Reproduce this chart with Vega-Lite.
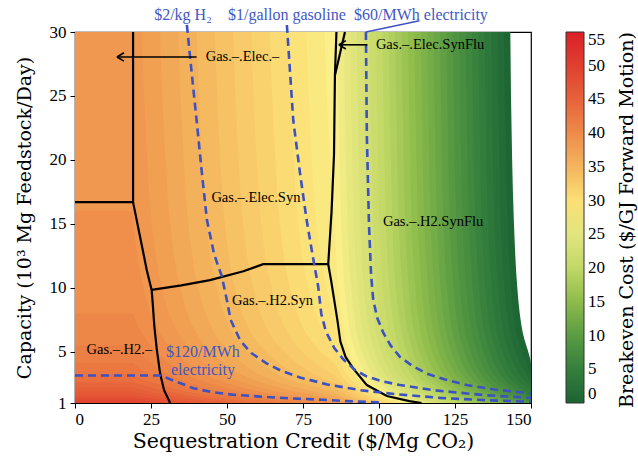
{
"$schema":"https://vega.github.io/schema/vega-lite/v6.json",
"width":456,"height":371,
"autosize":{"type":"none"},
"padding":{"left":75,"top":32,"right":107,"bottom":57},
"background":"white",
"config":{
 "font":"Liberation Serif",
 "view":{"stroke":"black","strokeWidth":1.2},
 "axis":{"grid":false,"labelFontSize":17,"titleFontSize":18.5,"titleFontWeight":"normal","labelColor":"black","titleColor":"black","tickColor":"black","domainColor":"black","tickSize":5,"labelFont":"Liberation Serif","titleFont":"DejaVu Serif"},
 "legend":{"labelFont":"Liberation Serif"}
},
"datasets":{
"areas":[
{"b":0.5,"y":30,"x":143.2},{"b":0.5,"y":20,"x":143.8},{"b":0.5,"y":15,"x":144.4},{"b":0.5,"y":10,"x":145.5},{"b":0.5,"y":8,"x":146.3},{"b":0.5,"y":6,"x":147.8},{"b":0.5,"y":5,"x":149.1},{"b":0.5,"y":4,"x":150},{"b":0.5,"y":3,"x":150},{"b":0.5,"y":2.5,"x":150},{"b":0.5,"y":2,"x":150},{"b":0.5,"y":1.5,"x":150},{"b":0.5,"y":1,"x":150},
{"b":1.5,"y":30,"x":141.1},{"b":1.5,"y":20,"x":141.7},{"b":1.5,"y":15,"x":142.3},{"b":1.5,"y":10,"x":143.4},{"b":1.5,"y":8,"x":144.2},{"b":1.5,"y":6,"x":145.7},{"b":1.5,"y":5,"x":147.0},{"b":1.5,"y":4,"x":148.7},{"b":1.5,"y":3,"x":150},{"b":1.5,"y":2.5,"x":150},{"b":1.5,"y":2,"x":150},{"b":1.5,"y":1.5,"x":150},{"b":1.5,"y":1,"x":150},
{"b":2.5,"y":30,"x":139.0},{"b":2.5,"y":20,"x":139.6},{"b":2.5,"y":15,"x":140.1},{"b":2.5,"y":10,"x":141.3},{"b":2.5,"y":8,"x":142.1},{"b":2.5,"y":6,"x":143.6},{"b":2.5,"y":5,"x":144.9},{"b":2.5,"y":4,"x":146.6},{"b":2.5,"y":3,"x":149.1},{"b":2.5,"y":2.5,"x":150},{"b":2.5,"y":2,"x":150},{"b":2.5,"y":1.5,"x":150},{"b":2.5,"y":1,"x":150},
{"b":3.5,"y":30,"x":136.9},{"b":3.5,"y":20,"x":137.5},{"b":3.5,"y":15,"x":138.0},{"b":3.5,"y":10,"x":139.2},{"b":3.5,"y":8,"x":140.0},{"b":3.5,"y":6,"x":141.5},{"b":3.5,"y":5,"x":142.8},{"b":3.5,"y":4,"x":144.5},{"b":3.5,"y":3,"x":147.0},{"b":3.5,"y":2.5,"x":149.1},{"b":3.5,"y":2,"x":150},{"b":3.5,"y":1.5,"x":150},{"b":3.5,"y":1,"x":150},
{"b":4.5,"y":30,"x":134.8},{"b":4.5,"y":20,"x":135.4},{"b":4.5,"y":15,"x":135.9},{"b":4.5,"y":10,"x":137.1},{"b":4.5,"y":8,"x":137.9},{"b":4.5,"y":6,"x":139.4},{"b":4.5,"y":5,"x":140.7},{"b":4.5,"y":4,"x":142.4},{"b":4.5,"y":3,"x":144.9},{"b":4.5,"y":2.5,"x":147.0},{"b":4.5,"y":2,"x":149.7},{"b":4.5,"y":1.5,"x":150},{"b":4.5,"y":1,"x":150},
{"b":5.5,"y":30,"x":132.7},{"b":5.5,"y":20,"x":133.3},{"b":5.5,"y":15,"x":133.8},{"b":5.5,"y":10,"x":135.0},{"b":5.5,"y":8,"x":135.8},{"b":5.5,"y":6,"x":137.3},{"b":5.5,"y":5,"x":138.6},{"b":5.5,"y":4,"x":140.2},{"b":5.5,"y":3,"x":142.8},{"b":5.5,"y":2.5,"x":144.9},{"b":5.5,"y":2,"x":147.6},{"b":5.5,"y":1.5,"x":150},{"b":5.5,"y":1,"x":150},
{"b":6.5,"y":30,"x":130.6},{"b":6.5,"y":20,"x":131.2},{"b":6.5,"y":15,"x":131.7},{"b":6.5,"y":10,"x":132.9},{"b":6.5,"y":8,"x":133.7},{"b":6.5,"y":6,"x":135.2},{"b":6.5,"y":5,"x":136.5},{"b":6.5,"y":4,"x":138.1},{"b":6.5,"y":3,"x":140.7},{"b":6.5,"y":2.5,"x":142.8},{"b":6.5,"y":2,"x":145.5},{"b":6.5,"y":1.5,"x":149.3},{"b":6.5,"y":1,"x":150},
{"b":7.5,"y":30,"x":128.5},{"b":7.5,"y":20,"x":129.1},{"b":7.5,"y":15,"x":129.6},{"b":7.5,"y":10,"x":130.8},{"b":7.5,"y":8,"x":131.6},{"b":7.5,"y":6,"x":133.1},{"b":7.5,"y":5,"x":134.4},{"b":7.5,"y":4,"x":136.0},{"b":7.5,"y":3,"x":138.6},{"b":7.5,"y":2.5,"x":140.7},{"b":7.5,"y":2,"x":143.4},{"b":7.5,"y":1.5,"x":147.2},{"b":7.5,"y":1,"x":150},
{"b":8.5,"y":30,"x":126.4},{"b":8.5,"y":20,"x":127.0},{"b":8.5,"y":15,"x":127.5},{"b":8.5,"y":10,"x":128.7},{"b":8.5,"y":8,"x":129.5},{"b":8.5,"y":6,"x":131.0},{"b":8.5,"y":5,"x":132.3},{"b":8.5,"y":4,"x":133.9},{"b":8.5,"y":3,"x":136.5},{"b":8.5,"y":2.5,"x":138.6},{"b":8.5,"y":2,"x":141.3},{"b":8.5,"y":1.5,"x":145.1},{"b":8.5,"y":1,"x":150},
{"b":9.5,"y":30,"x":124.3},{"b":9.5,"y":20,"x":124.9},{"b":9.5,"y":15,"x":125.4},{"b":9.5,"y":10,"x":126.6},{"b":9.5,"y":8,"x":127.4},{"b":9.5,"y":6,"x":128.9},{"b":9.5,"y":5,"x":130.2},{"b":9.5,"y":4,"x":131.8},{"b":9.5,"y":3,"x":134.4},{"b":9.5,"y":2.5,"x":136.5},{"b":9.5,"y":2,"x":139.2},{"b":9.5,"y":1.5,"x":143.0},{"b":9.5,"y":1,"x":148.4},
{"b":10.5,"y":30,"x":122.2},{"b":10.5,"y":20,"x":122.8},{"b":10.5,"y":15,"x":123.3},{"b":10.5,"y":10,"x":124.5},{"b":10.5,"y":8,"x":125.3},{"b":10.5,"y":6,"x":126.8},{"b":10.5,"y":5,"x":128.1},{"b":10.5,"y":4,"x":129.7},{"b":10.5,"y":3,"x":132.3},{"b":10.5,"y":2.5,"x":134.4},{"b":10.5,"y":2,"x":137.1},{"b":10.5,"y":1.5,"x":140.9},{"b":10.5,"y":1,"x":146.3},
{"b":11.5,"y":30,"x":120.1},{"b":11.5,"y":20,"x":120.7},{"b":11.5,"y":15,"x":121.2},{"b":11.5,"y":10,"x":122.4},{"b":11.5,"y":8,"x":123.2},{"b":11.5,"y":6,"x":124.7},{"b":11.5,"y":5,"x":126.0},{"b":11.5,"y":4,"x":127.6},{"b":11.5,"y":3,"x":130.2},{"b":11.5,"y":2.5,"x":132.3},{"b":11.5,"y":2,"x":135.0},{"b":11.5,"y":1.5,"x":138.8},{"b":11.5,"y":1,"x":144.2},
{"b":12.5,"y":30,"x":118.0},{"b":12.5,"y":20,"x":118.6},{"b":12.5,"y":15,"x":119.1},{"b":12.5,"y":10,"x":120.3},{"b":12.5,"y":8,"x":121.1},{"b":12.5,"y":6,"x":122.6},{"b":12.5,"y":5,"x":123.8},{"b":12.5,"y":4,"x":125.5},{"b":12.5,"y":3,"x":128.0},{"b":12.5,"y":2.5,"x":130.2},{"b":12.5,"y":2,"x":132.9},{"b":12.5,"y":1.5,"x":136.7},{"b":12.5,"y":1,"x":142.1},
{"b":13.5,"y":30,"x":115.9},{"b":13.5,"y":20,"x":116.5},{"b":13.5,"y":15,"x":117.0},{"b":13.5,"y":10,"x":118.2},{"b":13.5,"y":8,"x":119.0},{"b":13.5,"y":6,"x":120.5},{"b":13.5,"y":5,"x":121.7},{"b":13.5,"y":4,"x":123.4},{"b":13.5,"y":3,"x":125.9},{"b":13.5,"y":2.5,"x":128.1},{"b":13.5,"y":2,"x":130.8},{"b":13.5,"y":1.5,"x":134.6},{"b":13.5,"y":1,"x":140.0},
{"b":14.5,"y":30,"x":113.8},{"b":14.5,"y":20,"x":114.4},{"b":14.5,"y":15,"x":114.9},{"b":14.5,"y":10,"x":116.1},{"b":14.5,"y":8,"x":116.9},{"b":14.5,"y":6,"x":118.4},{"b":14.5,"y":5,"x":119.6},{"b":14.5,"y":4,"x":121.3},{"b":14.5,"y":3,"x":123.8},{"b":14.5,"y":2.5,"x":126.0},{"b":14.5,"y":2,"x":128.7},{"b":14.5,"y":1.5,"x":132.5},{"b":14.5,"y":1,"x":137.9},
{"b":15.5,"y":30,"x":111.6},{"b":15.5,"y":20,"x":112.3},{"b":15.5,"y":15,"x":112.8},{"b":15.5,"y":10,"x":114.0},{"b":15.5,"y":8,"x":114.8},{"b":15.5,"y":6,"x":116.3},{"b":15.5,"y":5,"x":117.5},{"b":15.5,"y":4,"x":119.2},{"b":15.5,"y":3,"x":121.7},{"b":15.5,"y":2.5,"x":123.8},{"b":15.5,"y":2,"x":126.6},{"b":15.5,"y":1.5,"x":130.4},{"b":15.5,"y":1,"x":135.8},
{"b":16.5,"y":30,"x":109.5},{"b":16.5,"y":20,"x":110.2},{"b":16.5,"y":15,"x":110.7},{"b":16.5,"y":10,"x":111.9},{"b":16.5,"y":8,"x":112.7},{"b":16.5,"y":6,"x":114.2},{"b":16.5,"y":5,"x":115.4},{"b":16.5,"y":4,"x":117.1},{"b":16.5,"y":3,"x":119.6},{"b":16.5,"y":2.5,"x":121.7},{"b":16.5,"y":2,"x":124.5},{"b":16.5,"y":1.5,"x":128.3},{"b":16.5,"y":1,"x":133.7},
{"b":17.5,"y":30,"x":107.4},{"b":17.5,"y":20,"x":108.1},{"b":17.5,"y":15,"x":108.6},{"b":17.5,"y":10,"x":109.8},{"b":17.5,"y":8,"x":110.6},{"b":17.5,"y":6,"x":112.1},{"b":17.5,"y":5,"x":113.3},{"b":17.5,"y":4,"x":115.0},{"b":17.5,"y":3,"x":117.5},{"b":17.5,"y":2.5,"x":119.6},{"b":17.5,"y":2,"x":122.4},{"b":17.5,"y":1.5,"x":126.2},{"b":17.5,"y":1,"x":131.6},
{"b":18.5,"y":30,"x":105.3},{"b":18.5,"y":20,"x":106.0},{"b":18.5,"y":15,"x":106.5},{"b":18.5,"y":10,"x":107.7},{"b":18.5,"y":8,"x":108.5},{"b":18.5,"y":6,"x":110.0},{"b":18.5,"y":5,"x":111.2},{"b":18.5,"y":4,"x":112.9},{"b":18.5,"y":3,"x":115.4},{"b":18.5,"y":2.5,"x":117.5},{"b":18.5,"y":2,"x":120.3},{"b":18.5,"y":1.5,"x":124.1},{"b":18.5,"y":1,"x":129.5},
{"b":19.5,"y":30,"x":103.2},{"b":19.5,"y":20,"x":103.9},{"b":19.5,"y":15,"x":104.4},{"b":19.5,"y":10,"x":105.5},{"b":19.5,"y":8,"x":106.4},{"b":19.5,"y":6,"x":107.9},{"b":19.5,"y":5,"x":109.1},{"b":19.5,"y":4,"x":110.8},{"b":19.5,"y":3,"x":113.3},{"b":19.5,"y":2.5,"x":115.4},{"b":19.5,"y":2,"x":118.2},{"b":19.5,"y":1.5,"x":122.0},{"b":19.5,"y":1,"x":127.4},
{"b":20.5,"y":30,"x":101.1},{"b":20.5,"y":20,"x":101.8},{"b":20.5,"y":15,"x":102.3},{"b":20.5,"y":10,"x":103.4},{"b":20.5,"y":8,"x":104.3},{"b":20.5,"y":6,"x":105.8},{"b":20.5,"y":5,"x":107.0},{"b":20.5,"y":4,"x":108.7},{"b":20.5,"y":3,"x":111.2},{"b":20.5,"y":2.5,"x":113.3},{"b":20.5,"y":2,"x":116.1},{"b":20.5,"y":1.5,"x":119.9},{"b":20.5,"y":1,"x":125.3},
{"b":21.5,"y":30,"x":99.0},{"b":21.5,"y":20,"x":99.7},{"b":21.5,"y":15,"x":100.2},{"b":21.5,"y":10,"x":101.3},{"b":21.5,"y":8,"x":102.2},{"b":21.5,"y":6,"x":103.7},{"b":21.5,"y":5,"x":104.9},{"b":21.5,"y":4,"x":106.6},{"b":21.5,"y":3,"x":109.1},{"b":21.5,"y":2.5,"x":111.2},{"b":21.5,"y":2,"x":114.0},{"b":21.5,"y":1.5,"x":117.8},{"b":21.5,"y":1,"x":123.2},
{"b":22.5,"y":30,"x":96.9},{"b":22.5,"y":20,"x":97.6},{"b":22.5,"y":15,"x":98.1},{"b":22.5,"y":10,"x":99.2},{"b":22.5,"y":8,"x":100.1},{"b":22.5,"y":6,"x":101.6},{"b":22.5,"y":5,"x":102.8},{"b":22.5,"y":4,"x":104.5},{"b":22.5,"y":3,"x":107.0},{"b":22.5,"y":2.5,"x":109.1},{"b":22.5,"y":2,"x":111.9},{"b":22.5,"y":1.5,"x":115.6},{"b":22.5,"y":1,"x":121.1},
{"b":23.5,"y":30,"x":94.8},{"b":23.5,"y":20,"x":95.5},{"b":23.5,"y":15,"x":96.0},{"b":23.5,"y":10,"x":97.1},{"b":23.5,"y":8,"x":98.0},{"b":23.5,"y":6,"x":99.5},{"b":23.5,"y":5,"x":100.7},{"b":23.5,"y":4,"x":102.4},{"b":23.5,"y":3,"x":104.9},{"b":23.5,"y":2.5,"x":107.0},{"b":23.5,"y":2,"x":109.8},{"b":23.5,"y":1.5,"x":113.5},{"b":23.5,"y":1,"x":119.0},
{"b":24.5,"y":30,"x":92.7},{"b":24.5,"y":20,"x":93.4},{"b":24.5,"y":15,"x":93.9},{"b":24.5,"y":10,"x":95.0},{"b":24.5,"y":8,"x":95.9},{"b":24.5,"y":6,"x":97.4},{"b":24.5,"y":5,"x":98.6},{"b":24.5,"y":4,"x":100.3},{"b":24.5,"y":3,"x":102.8},{"b":24.5,"y":2.5,"x":104.9},{"b":24.5,"y":2,"x":107.7},{"b":24.5,"y":1.5,"x":111.4},{"b":24.5,"y":1,"x":116.9},
{"b":25.5,"y":30,"x":90.6},{"b":25.5,"y":20,"x":91.2},{"b":25.5,"y":15,"x":91.8},{"b":25.5,"y":10,"x":92.9},{"b":25.5,"y":8,"x":93.8},{"b":25.5,"y":6,"x":95.2},{"b":25.5,"y":5,"x":96.5},{"b":25.5,"y":4,"x":98.2},{"b":25.5,"y":3,"x":100.7},{"b":25.5,"y":2.5,"x":102.8},{"b":25.5,"y":2,"x":105.5},{"b":25.5,"y":1.5,"x":109.3},{"b":25.5,"y":1,"x":114.8},
{"b":26.5,"y":30,"x":88.5},{"b":26.5,"y":20,"x":89.1},{"b":26.5,"y":15,"x":89.7},{"b":26.5,"y":10,"x":90.8},{"b":26.5,"y":8,"x":91.7},{"b":26.5,"y":6,"x":93.1},{"b":26.5,"y":5,"x":94.4},{"b":26.5,"y":4,"x":96.1},{"b":26.5,"y":3,"x":98.6},{"b":26.5,"y":2.5,"x":100.7},{"b":26.5,"y":2,"x":103.4},{"b":26.5,"y":1.5,"x":107.2},{"b":26.5,"y":1,"x":112.7},
{"b":27.5,"y":30,"x":86.4},{"b":27.5,"y":20,"x":87.0},{"b":27.5,"y":15,"x":87.6},{"b":27.5,"y":10,"x":88.7},{"b":27.5,"y":8,"x":89.6},{"b":27.5,"y":6,"x":91.0},{"b":27.5,"y":5,"x":92.3},{"b":27.5,"y":4,"x":94.0},{"b":27.5,"y":3,"x":96.5},{"b":27.5,"y":2.5,"x":98.6},{"b":27.5,"y":2,"x":101.3},{"b":27.5,"y":1.5,"x":105.1},{"b":27.5,"y":1,"x":110.6},
{"b":28.5,"y":30,"x":82.1},{"b":28.5,"y":20,"x":83.9},{"b":28.5,"y":15,"x":85.4},{"b":28.5,"y":10,"x":86.6},{"b":28.5,"y":8,"x":87.5},{"b":28.5,"y":6,"x":88.9},{"b":28.5,"y":5,"x":90.2},{"b":28.5,"y":4,"x":91.9},{"b":28.5,"y":3,"x":94.4},{"b":28.5,"y":2.5,"x":96.5},{"b":28.5,"y":2,"x":99.2},{"b":28.5,"y":1.5,"x":103.0},{"b":28.5,"y":1,"x":108.5},
{"b":29.5,"y":30,"x":76.1},{"b":29.5,"y":20,"x":77.9},{"b":29.5,"y":15,"x":79.4},{"b":29.5,"y":10,"x":82.7},{"b":29.5,"y":8,"x":85.1},{"b":29.5,"y":6,"x":86.8},{"b":29.5,"y":5,"x":88.1},{"b":29.5,"y":4,"x":89.8},{"b":29.5,"y":3,"x":92.3},{"b":29.5,"y":2.5,"x":94.4},{"b":29.5,"y":2,"x":97.1},{"b":29.5,"y":1.5,"x":100.9},{"b":29.5,"y":1,"x":106.4},
{"b":30.5,"y":30,"x":70.1},{"b":30.5,"y":20,"x":71.9},{"b":30.5,"y":15,"x":73.4},{"b":30.5,"y":10,"x":76.7},{"b":30.5,"y":8,"x":79.1},{"b":30.5,"y":6,"x":83.3},{"b":30.5,"y":5,"x":86.0},{"b":30.5,"y":4,"x":87.7},{"b":30.5,"y":3,"x":90.2},{"b":30.5,"y":2.5,"x":92.3},{"b":30.5,"y":2,"x":95.0},{"b":30.5,"y":1.5,"x":98.8},{"b":30.5,"y":1,"x":104.3},
{"b":31.5,"y":30,"x":64.1},{"b":31.5,"y":20,"x":65.9},{"b":31.5,"y":15,"x":67.4},{"b":31.5,"y":10,"x":70.7},{"b":31.5,"y":8,"x":73.1},{"b":31.5,"y":6,"x":77.3},{"b":31.5,"y":5,"x":80.9},{"b":31.5,"y":4,"x":85.6},{"b":31.5,"y":3,"x":88.1},{"b":31.5,"y":2.5,"x":90.2},{"b":31.5,"y":2,"x":92.9},{"b":31.5,"y":1.5,"x":96.7},{"b":31.5,"y":1,"x":102.2},
{"b":32.5,"y":30,"x":58.0},{"b":32.5,"y":20,"x":59.8},{"b":32.5,"y":15,"x":61.3},{"b":32.5,"y":10,"x":64.7},{"b":32.5,"y":8,"x":67.1},{"b":32.5,"y":6,"x":71.3},{"b":32.5,"y":5,"x":74.9},{"b":32.5,"y":4,"x":79.7},{"b":32.5,"y":3,"x":86.0},{"b":32.5,"y":2.5,"x":88.1},{"b":32.5,"y":2,"x":90.8},{"b":32.5,"y":1.5,"x":94.6},{"b":32.5,"y":1,"x":100.1},
{"b":33.5,"y":30,"x":52.0},{"b":33.5,"y":20,"x":53.8},{"b":33.5,"y":15,"x":55.3},{"b":33.5,"y":10,"x":58.6},{"b":33.5,"y":8,"x":61.0},{"b":33.5,"y":6,"x":65.2},{"b":33.5,"y":5,"x":68.9},{"b":33.5,"y":4,"x":73.7},{"b":33.5,"y":3,"x":80.9},{"b":33.5,"y":2.5,"x":86.0},{"b":33.5,"y":2,"x":88.7},{"b":33.5,"y":1.5,"x":92.5},{"b":33.5,"y":1,"x":98.0},
{"b":34.5,"y":30,"x":46.0},{"b":34.5,"y":20,"x":47.8},{"b":34.5,"y":15,"x":49.3},{"b":34.5,"y":10,"x":52.6},{"b":34.5,"y":8,"x":55.0},{"b":34.5,"y":6,"x":59.2},{"b":34.5,"y":5,"x":62.9},{"b":34.5,"y":4,"x":67.7},{"b":34.5,"y":3,"x":74.9},{"b":34.5,"y":2.5,"x":80.9},{"b":34.5,"y":2,"x":86.6},{"b":34.5,"y":1.5,"x":90.4},{"b":34.5,"y":1,"x":95.9},
{"b":35.5,"y":30,"x":40.0},{"b":35.5,"y":20,"x":41.8},{"b":35.5,"y":15,"x":43.3},{"b":35.5,"y":10,"x":46.6},{"b":35.5,"y":8,"x":49.0},{"b":35.5,"y":6,"x":53.2},{"b":35.5,"y":5,"x":56.8},{"b":35.5,"y":4,"x":61.6},{"b":35.5,"y":3,"x":68.9},{"b":35.5,"y":2.5,"x":74.9},{"b":35.5,"y":2,"x":82.7},{"b":35.5,"y":1.5,"x":88.3},{"b":35.5,"y":1,"x":93.8},
{"b":36.5,"y":30,"x":34.0},{"b":36.5,"y":20,"x":35.8},{"b":36.5,"y":15,"x":37.3},{"b":36.5,"y":10,"x":40.6},{"b":36.5,"y":8,"x":43.0},{"b":36.5,"y":6,"x":47.2},{"b":36.5,"y":5,"x":50.8},{"b":36.5,"y":4,"x":55.6},{"b":36.5,"y":3,"x":62.9},{"b":36.5,"y":2.5,"x":68.9},{"b":36.5,"y":2,"x":76.7},{"b":36.5,"y":1.5,"x":86.2},{"b":36.5,"y":1,"x":91.7},
{"b":37.5,"y":30,"x":28.0},{"b":37.5,"y":20,"x":29.8},{"b":37.5,"y":15,"x":31.3},{"b":37.5,"y":10,"x":34.6},{"b":37.5,"y":8,"x":37.0},{"b":37.5,"y":6,"x":41.2},{"b":37.5,"y":5,"x":44.8},{"b":37.5,"y":4,"x":49.6},{"b":37.5,"y":3,"x":56.8},{"b":37.5,"y":2.5,"x":62.8},{"b":37.5,"y":2,"x":70.7},{"b":37.5,"y":1.5,"x":81.5},{"b":37.5,"y":1,"x":89.6},
{"b":38.5,"y":30,"x":22.0},{"b":38.5,"y":20,"x":23.8},{"b":38.5,"y":15,"x":25.3},{"b":38.5,"y":10,"x":28.6},{"b":38.5,"y":8,"x":31.0},{"b":38.5,"y":6,"x":35.2},{"b":38.5,"y":5,"x":38.8},{"b":38.5,"y":4,"x":43.6},{"b":38.5,"y":3,"x":50.8},{"b":38.5,"y":2.5,"x":56.8},{"b":38.5,"y":2,"x":64.6},{"b":38.5,"y":1.5,"x":75.5},{"b":38.5,"y":1,"x":87.5},
{"b":39.5,"y":16,"x":19},{"b":39.5,"y":15,"x":19.3},{"b":39.5,"y":10,"x":22.6},{"b":39.5,"y":8,"x":25.0},{"b":39.5,"y":6,"x":29.2},{"b":39.5,"y":5,"x":32.8},{"b":39.5,"y":4,"x":37.6},{"b":39.5,"y":3,"x":44.8},{"b":39.5,"y":2.5,"x":50.8},{"b":39.5,"y":2,"x":58.6},{"b":39.5,"y":1.5,"x":69.5},{"b":39.5,"y":1,"x":85.1},
{"b":40.5,"y":8,"x":19},{"b":40.5,"y":6,"x":23.2},{"b":40.5,"y":5,"x":26.8},{"b":40.5,"y":4,"x":31.6},{"b":40.5,"y":3,"x":38.8},{"b":40.5,"y":2.5,"x":44.8},{"b":40.5,"y":2,"x":52.6},{"b":40.5,"y":1.5,"x":63.4},{"b":40.5,"y":1,"x":79.1},
{"b":41.5,"y":5.5,"x":19},{"b":41.5,"y":5,"x":20.8},{"b":41.5,"y":4,"x":25.6},{"b":41.5,"y":3,"x":32.8},{"b":41.5,"y":2.5,"x":38.8},{"b":41.5,"y":2,"x":46.6},{"b":41.5,"y":1.5,"x":57.4},{"b":41.5,"y":1,"x":73.1},
{"b":42.5,"y":4.125,"x":19},{"b":42.5,"y":4,"x":19.6},{"b":42.5,"y":3,"x":26.8},{"b":42.5,"y":2.5,"x":32.8},{"b":42.5,"y":2,"x":40.6},{"b":42.5,"y":1.5,"x":51.4},{"b":42.5,"y":1,"x":67.1},
{"b":43.5,"y":3.25,"x":19},{"b":43.5,"y":3,"x":20.8},{"b":43.5,"y":2.5,"x":26.8},{"b":43.5,"y":2,"x":34.6},{"b":43.5,"y":1.5,"x":45.4},{"b":43.5,"y":1,"x":61.0},
{"b":44.5,"y":2.65,"x":19},{"b":44.5,"y":2.5,"x":20.8},{"b":44.5,"y":2,"x":28.6},{"b":44.5,"y":1.5,"x":39.4},{"b":44.5,"y":1,"x":55.0},
{"b":45.5,"y":2.23,"x":19},{"b":45.5,"y":2,"x":22.6},{"b":45.5,"y":1.5,"x":33.4},{"b":45.5,"y":1,"x":49.0},
{"b":46.5,"y":1.89,"x":19},{"b":46.5,"y":1.5,"x":27.4},{"b":46.5,"y":1,"x":43.0},
{"b":47.5,"y":1.61,"x":19},{"b":47.5,"y":1.5,"x":21.4},{"b":47.5,"y":1,"x":37.0},
{"b":48.5,"y":1.38,"x":19},{"b":48.5,"y":1,"x":31.0},
{"b":49.5,"y":1.19,"x":19},{"b":49.5,"y":1,"x":25.0}
],
"black":[
{"id":"b1","i":1,"x":19.1,"y":30},{"id":"b1","i":2,"x":19.1,"y":16.7},
{"id":"b2","i":1,"x":0,"y":16.7},{"id":"b2","i":2,"x":19.1,"y":16.7},
{"id":"b3","i":1,"x":19.1,"y":16.7},{"id":"b3","i":2,"x":21.4,"y":14},{"id":"b3","i":3,"x":23.6,"y":11.4},{"id":"b3","i":4,"x":25.2,"y":9.84},{"id":"b3","i":5,"x":25.5,"y":9},{"id":"b3","i":6,"x":26.1,"y":7},{"id":"b3","i":7,"x":26.9,"y":5.2},{"id":"b3","i":8,"x":28,"y":3.3},{"id":"b3","i":9,"x":29.3,"y":2},{"id":"b3","i":10,"x":31.3,"y":1},
{"id":"b4","i":1,"x":25.2,"y":9.84},{"id":"b4","i":2,"x":35,"y":10.2},{"id":"b4","i":3,"x":44.4,"y":10.6},{"id":"b4","i":4,"x":55.4,"y":11.3},{"id":"b4","i":5,"x":61.9,"y":11.85},{"id":"b4","i":6,"x":83.3,"y":11.85},
{"id":"b5","i":1,"x":86,"y":30},{"id":"b5","i":2,"x":85.5,"y":26.6},{"id":"b5","i":3,"x":85.2,"y":20.4},{"id":"b5","i":4,"x":84.4,"y":16},{"id":"b5","i":5,"x":83.3,"y":11.85},{"id":"b5","i":6,"x":84.3,"y":10.5},{"id":"b5","i":7,"x":85.3,"y":9},{"id":"b5","i":8,"x":86.3,"y":7.5},{"id":"b5","i":9,"x":87.3,"y":5.8},{"id":"b5","i":10,"x":89,"y":4.6},{"id":"b5","i":11,"x":91.5,"y":3.7},{"id":"b5","i":12,"x":96,"y":2.4},{"id":"b5","i":13,"x":102.6,"y":1.55},{"id":"b5","i":14,"x":110,"y":1.15},{"id":"b5","i":15,"x":114,"y":1},
{"id":"b6","i":1,"x":88.8,"y":30},{"id":"b6","i":2,"x":85.5,"y":26.6}
],
"dashed":[
{"id":"d1","i":1,"x":36.8,"y":30.55},{"id":"d1","i":2,"x":38.3,"y":27},{"id":"d1","i":3,"x":40,"y":23.1},{"id":"d1","i":4,"x":41.6,"y":19.3},{"id":"d1","i":5,"x":43.4,"y":15.3},{"id":"d1","i":6,"x":45.8,"y":12.6},{"id":"d1","i":7,"x":48.3,"y":10.9},{"id":"d1","i":8,"x":50,"y":9},{"id":"d1","i":9,"x":51.2,"y":7.5},{"id":"d1","i":10,"x":54.3,"y":5.9},{"id":"d1","i":11,"x":58,"y":4.9},{"id":"d1","i":12,"x":63,"y":4.1},{"id":"d1","i":13,"x":68,"y":3.5},{"id":"d1","i":14,"x":74,"y":3.0},{"id":"d1","i":15,"x":83,"y":2.45},{"id":"d1","i":16,"x":94,"y":2.0},{"id":"d1","i":17,"x":105,"y":1.7},{"id":"d1","i":18,"x":120,"y":1.4},{"id":"d1","i":19,"x":135,"y":1.22},{"id":"d1","i":20,"x":150,"y":1.1},
{"id":"d2","i":1,"x":69.7,"y":30.55},{"id":"d2","i":2,"x":71.8,"y":23.1},{"id":"d2","i":3,"x":74,"y":19},{"id":"d2","i":4,"x":76.2,"y":15.3},{"id":"d2","i":5,"x":78.2,"y":12.5},{"id":"d2","i":6,"x":80,"y":10.1},{"id":"d2","i":7,"x":81,"y":8},{"id":"d2","i":8,"x":82.5,"y":6.6},{"id":"d2","i":9,"x":85.3,"y":5.3},{"id":"d2","i":10,"x":88.3,"y":4.4},{"id":"d2","i":11,"x":92,"y":3.6},{"id":"d2","i":12,"x":96,"y":3.07},{"id":"d2","i":13,"x":101,"y":2.7},{"id":"d2","i":14,"x":107,"y":2.4},{"id":"d2","i":15,"x":117.9,"y":2.0},{"id":"d2","i":16,"x":135.4,"y":1.6},{"id":"d2","i":17,"x":150,"y":1.4},
{"id":"d3","i":1,"x":95.7,"y":30},{"id":"d3","i":2,"x":96,"y":22},{"id":"d3","i":3,"x":96.7,"y":15},{"id":"d3","i":4,"x":97.4,"y":11},{"id":"d3","i":5,"x":98.1,"y":9.06},{"id":"d3","i":6,"x":99.5,"y":7.6},{"id":"d3","i":7,"x":101.4,"y":6.5},{"id":"d3","i":8,"x":103.8,"y":5.5},{"id":"d3","i":9,"x":106.9,"y":4.6},{"id":"d3","i":10,"x":111,"y":3.9},{"id":"d3","i":11,"x":115.7,"y":3.3},{"id":"d3","i":12,"x":121.5,"y":2.85},{"id":"d3","i":13,"x":128.8,"y":2.4},{"id":"d3","i":14,"x":138,"y":2.05},{"id":"d3","i":15,"x":150,"y":1.77},
{"id":"d4","i":1,"x":0,"y":3.15},{"id":"d4","i":2,"x":28,"y":3.15},{"id":"d4","i":3,"x":33,"y":2.7},{"id":"d4","i":4,"x":38.9,"y":2.16},{"id":"d4","i":5,"x":45,"y":1.85},{"id":"d4","i":6,"x":52,"y":1.65},{"id":"d4","i":7,"x":60.9,"y":1.5},{"id":"d4","i":8,"x":70,"y":1.37},{"id":"d4","i":9,"x":81.7,"y":1.25},{"id":"d4","i":10,"x":92,"y":1.12},{"id":"d4","i":11,"x":100,"y":1.05}
],
"leader":[{"id":"l","i":1,"x":95.7,"y":30},{"id":"l","i":2,"x":113.3,"y":30.88}],
"arrows":[
{"id":"a1","i":1,"x":40,"y":28.05},{"id":"a1","i":2,"x":13.8,"y":28.05},
{"id":"a2","i":1,"x":96.2,"y":29},{"id":"a2","i":2,"x":86.8,"y":29}
],
"heads":[{"x":13.8,"y":28.05},{"x":86.8,"y":29}],
"tblack":[
{"t":"Gas.–.Elec.–","x":55.1,"y":28.05},
{"t":"Gas.–.Elec.SynFlu","x":116.8,"y":29.0},
{"t":"Gas.–.Elec.Syn","x":59.5,"y":17.0},
{"t":"Gas.–.H2.Syn","x":65,"y":9.0},
{"t":"Gas.–.H2.–","x":14.6,"y":5.15},
{"t":"Gas.–.H2.SynFlu","x":117.8,"y":15.15}
],
"tblue":[
{"t":"$120/MWh","x":42.1,"y":5.0},
{"t":"electricity","x":42.1,"y":3.6},
{"t":"$2/kg H₂","x":35.5,"y":31.33},
{"t":"$1/gallon gasoline","x":69.7,"y":31.33},
{"t":"$60/MWh electricity","x":113.8,"y":31.33}
],
"ltitle":[{"t":"Breakeven Cost ($/GJ Forward Motion)","x":181.5,"y":15.3}]
},
"encoding":{
 "x":{"field":"x","type":"quantitative","stack":null,"scale":{"domain":[0,150],"nice":false,"zero":false},
  "axis":{"values":[0,25,50,75,100,125,150],"title":"Sequestration Credit ($/Mg CO₂)","labelPadding":3,"titlePadding":4,"titleFontSize":20.5}},
 "y":{"field":"y","type":"quantitative","scale":{"domain":[1,30],"nice":false,"zero":false},
  "axis":{"values":[1,5,10,15,20,25,30],"title":"Capacity (10³ Mg Feedstock/Day)","labelPadding":4,"titlePadding":15,"titleFontSize":19}}
},
"layer":[
 {"data":{"name":"areas"},
  "mark":{"type":"area","orient":"horizontal","interpolate":"monotone"},
  "encoding":{
   "color":{"field":"b","type":"quantitative",
    "scale":{"domain":[0,5,10,15,20,25,27.5,30,35,40,45,50,55],
             "range":["#1b6434","#357f3d","#5b9c43","#8dbb4c","#c0d866","#e2e57e","#faef88","#fbdf76","#f4b55e","#ee8b4a","#e7623a","#e04030","#da2027"]},
    "legend":{"orient":"right","offset":29,"direction":"vertical","gradientLength":371,"gradientThickness":18,
      "values":[0,5,10,15,20,25,30,35,40,45,50,55],"labelFontSize":17,"labelOffset":4,"labelColor":"black",
      "gradientStrokeColor":"#333","gradientStrokeWidth":1,"title":null}},
   "detail":{"field":"b","type":"nominal"}
  }},
 {"data":{"name":"black"},
  "mark":{"type":"line","color":"black","strokeWidth":2.2},
  "encoding":{"detail":{"field":"id","type":"nominal"},"order":{"field":"i","type":"quantitative"}}},
 {"data":{"name":"dashed"},
  "mark":{"type":"line","color":"#3d52c2","strokeWidth":2.6,"strokeDash":[8,5]},
  "encoding":{"detail":{"field":"id","type":"nominal"},"order":{"field":"i","type":"quantitative"}}},
 {"data":{"name":"leader"},
  "mark":{"type":"line","color":"#3d52c2","strokeWidth":1.5},
  "encoding":{"order":{"field":"i","type":"quantitative"}}},
 {"data":{"name":"arrows"},
  "mark":{"type":"line","color":"black","strokeWidth":1.6},
  "encoding":{"detail":{"field":"id","type":"nominal"},"order":{"field":"i","type":"quantitative"}}},
 {"data":{"name":"heads"},
  "mark":{"type":"point","shape":"M0,0L1,-0.6M0,0L1,0.6","filled":false,"stroke":"black","strokeWidth":1.6,"size":196,"opacity":1},
  "encoding":{}},
 {"data":{"name":"tblack"},
  "mark":{"type":"text","fontSize":14.5,"color":"black","align":"center","baseline":"middle","font":"Liberation Serif"},
  "encoding":{"text":{"field":"t"}}},
 {"data":{"name":"tblue"},
  "mark":{"type":"text","fontSize":16,"color":"#4257c2","align":"center","baseline":"middle","font":"Liberation Serif"},
  "encoding":{"text":{"field":"t"}}},
 {"data":{"name":"ltitle"},
  "mark":{"type":"text","fontSize":19,"color":"black","align":"center","baseline":"middle","angle":270,"font":"DejaVu Serif"},
  "encoding":{"text":{"field":"t"}}}
]
}
